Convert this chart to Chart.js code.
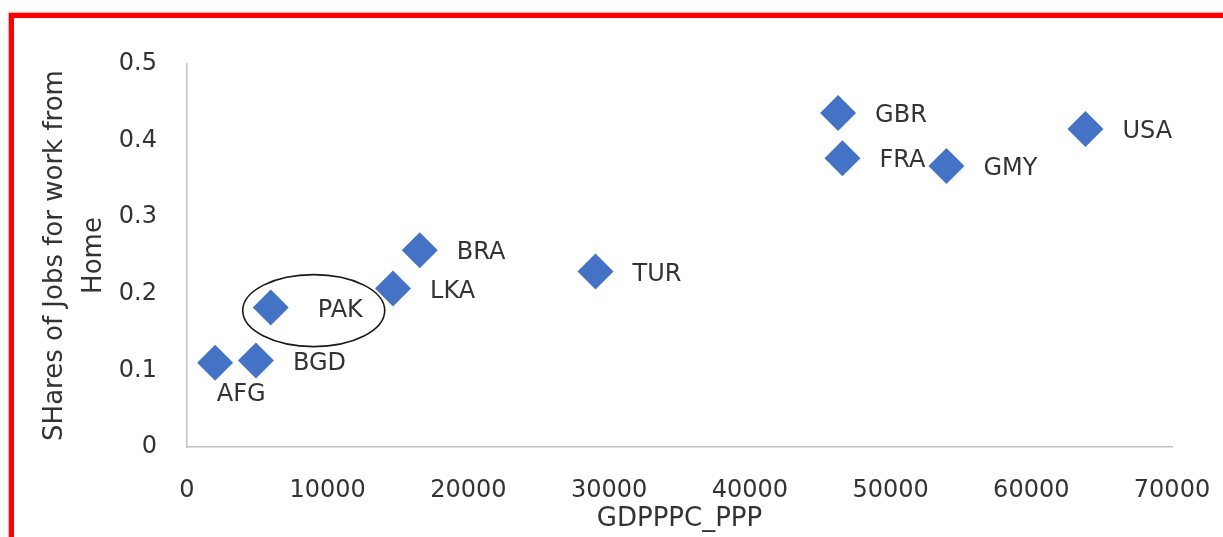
<!DOCTYPE html>
<html>
<head>
<meta charset="utf-8">
<script src="https://cdn.jsdelivr.net/npm/chart.js@4/dist/chart.umd.min.js"></script>
<style>
    html, body { margin: 0; padding: 0; background: #ffffff; }
    #wrap { position: relative; width: 1223px; height: 537px; overflow: hidden; }
    #frame {
        position: absolute; left: 9px; top: 13px; width: 1300px; height: 600px;
        border-left: 5px solid #ff0000; border-top: 5px solid #ff0000;
        box-shadow: -1px -1px 1px rgba(255, 120, 120, 0.6);
        pointer-events: none;
    }
</style>
</head>
<body>
<div id="wrap">
    <canvas id="chart"></canvas>
    <div id="frame"></div>
</div>
<script>
// Dados
const countries = ['AFG', 'BGD', 'PAK', 'LKA', 'BRA', 'TUR', 'GBR', 'FRA', 'GMY', 'USA'];
const gdpPPP = [2000, 4900, 5950, 14640, 16540, 29030, 46270, 46580, 53970, 63850];
const homeShare = [0.110, 0.113, 0.182, 0.207, 0.257, 0.229, 0.436, 0.377, 0.367, 0.415];
const xTicks = [0, 10000, 20000, 30000, 40000, 50000, 60000, 70000];
const yTicks = [0, 0.1, 0.2, 0.3, 0.4, 0.5];

const FONT = 'DejaVu Sans';
const TEXT = '#333333';

// Rótulos dos pontos + elipse em volta do PAK
const pointLabels = {
    id: 'pointLabels',
    afterDatasetsDraw(chart) {
        const ctx = chart.ctx;
        const meta = chart.getDatasetMeta(0);
        ctx.save();
        ctx.font = '24px "' + FONT + '"';
        ctx.fillStyle = TEXT;
        ctx.textBaseline = 'middle';
        meta.data.forEach((pt, i) => {
            const name = countries[i];
            if (name === 'AFG') {
                ctx.textAlign = 'center';
                ctx.fillText(name, pt.x + 26, pt.y + 32);
            } else {
                ctx.textAlign = 'left';
                const dx = name === 'PAK' ? 47 : 37;
                ctx.fillText(name, pt.x + dx, pt.y + 3);
            }
            if (name === 'PAK') {
                ctx.beginPath();
                ctx.ellipse(pt.x + 43, pt.y + 3, 71, 36, 0, 0, Math.PI * 2);
                ctx.strokeStyle = '#1a1a1a';
                ctx.lineWidth = 1.6;
                ctx.stroke();
            }
        });
        ctx.restore();
    }
};

new Chart(document.getElementById('chart'), {
    type: 'scatter',
    data: {
        datasets: [{
            data: gdpPPP.map((x, i) => ({ x: x, y: homeShare[i] })),
            backgroundColor: '#4472c4',
            borderWidth: 0,
            pointStyle: 'rectRot',
            pointRadius: 18,
            pointHoverRadius: 18
        }]
    },
    options: {
        responsive: true,
        maintainAspectRatio: false,
        animation: false,
        layout: { padding: { left: 0, top: 64, right: 51, bottom: 0 } },
        plugins: { legend: { display: false }, tooltip: { enabled: false } },
        scales: {
            x: {
                type: 'linear',
                min: xTicks[0],
                max: xTicks[xTicks.length - 1],
                afterFit: scale => {
                    scale.height = 90;
                    scale.paddingLeft = 0;
                    scale.paddingRight = 0;
                },
                afterBuildTicks: scale => { scale.ticks = xTicks.map(v => ({ value: v })); },
                grid: { display: false, drawTicks: false },
                border: { color: '#c4c4c4', width: 1.5 },
                ticks: {
                    padding: 29,
                    color: TEXT,
                    font: { family: FONT, size: 24, lineHeight: 1.2 },
                    callback: v => String(v)
                },
                title: {
                    display: true,
                    text: 'GDPPPC_PPP',
                    color: TEXT,
                    font: { family: FONT, size: 26, lineHeight: 1.2 },
                    padding: { top: 0, bottom: 2 }
                }
            },
            y: {
                type: 'linear',
                min: yTicks[0],
                max: yTicks[yTicks.length - 1],
                afterFit: scale => {
                    scale.width = 187;
                    scale.paddingTop = 0;
                    scale.paddingBottom = 0;
                },
                afterBuildTicks: scale => { scale.ticks = yTicks.map(v => ({ value: v })); },
                grid: { display: false, drawTicks: false },
                border: { color: '#c4c4c4', width: 1.5 },
                ticks: {
                    padding: 30,
                    color: TEXT,
                    font: { family: FONT, size: 24, lineHeight: 1.2 },
                    callback: v => String(+v.toFixed(1))
                },
                title: {
                    display: true,
                    text: ['SHares of Jobs for work from', 'Home'],
                    color: TEXT,
                    font: { family: FONT, size: 26, lineHeight: 1.5 },
                    padding: { top: 36, bottom: 0 }
                }
            }
        }
    },
    plugins: [pointLabels]
});
</script>
</body>
</html>
